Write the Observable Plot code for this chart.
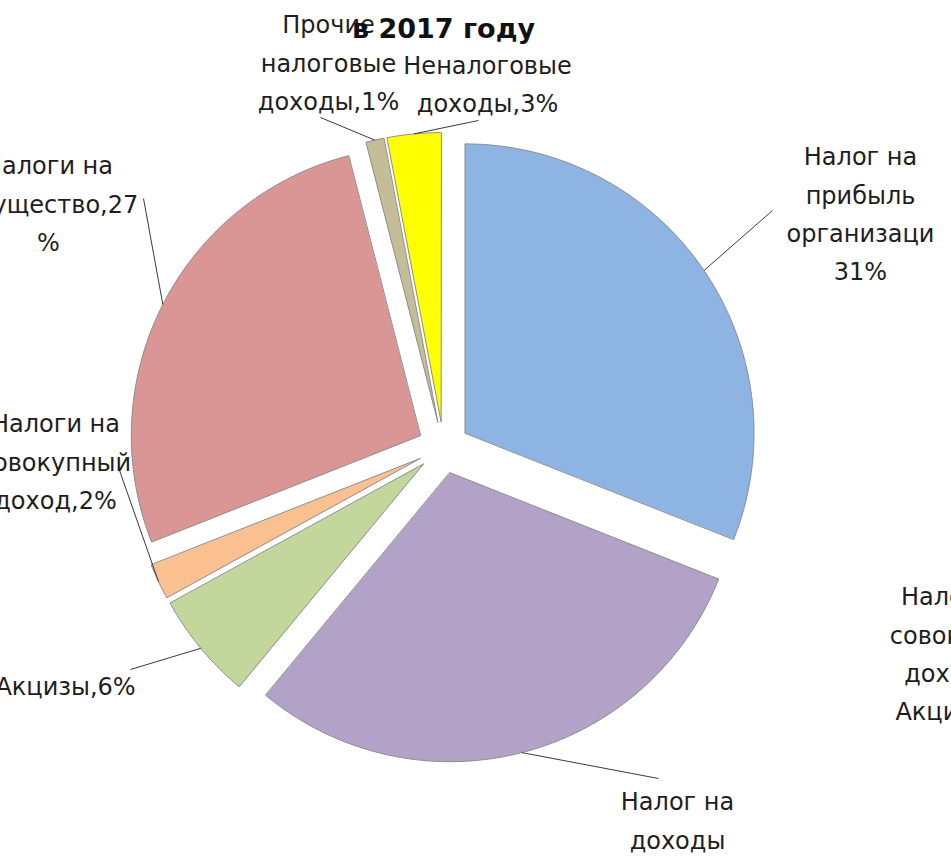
<!DOCTYPE html>
<html>
<head>
<meta charset="utf-8">
<script src="https://cdn.jsdelivr.net/npm/d3@7"></script>
<script src="https://cdn.jsdelivr.net/npm/@observablehq/plot@0.6"></script>
<style>
  html, body { margin: 0; padding: 0; background: #fff; }
  #chart svg { display: block; }
</style>
</head>
<body>
<div id="chart"></div>
<script>
// ---- data ----
const titleText = "в 2017 году";
const categories = [
  "Налог на прибыль организаций",
  "Налог на доходы физических лиц",
  "Акцизы",
  "Налоги на совокупный доход",
  "Налоги на имущество",
  "Прочие налоговые доходы",
  "Неналоговые доходы"
];
const shares = [31, 30, 6, 2, 27, 1, 3];
const labelTexts = [
  "Налог на\nприбыль\nорганизаци\n31%",
  "Налог на\nдоходы\nфизических\nлиц,30%",
  "Акцизы,6%",
  "Налоги на\nсовокупный\nдоход,2%",
  "Налоги на\nимущество,27\n%",
  "Прочие\nналоговые\nдоходы,1%",
  "Неналоговые\nдоходы,3%"
];
const strayLabelText = "Налоги на\nсовокупный\nдоход,2%\nАкцизы,6%";

// ---- style / layout (kept apart from data) ----
const sliceColors = ["#8EB4E3", "#B3A2C7", "#C3D69B", "#FAC090", "#D99694", "#C4BD97", "#FFFF00"];
const R = 289, explode = 26;
// label block centres and leader-line starts, in plot units (centre of pie = 0,0)
const labelLayout = [
  {tx: 417, ty: -237, lx: 329, ly: -237},
  {tx: 234, ty: 408, lx: 215, ly: 331},
  {tx: -378, ty: 235, lx: -313, ly: 222},
  {tx: -388, ty: 11, lx: -325, ly: 20},
  {tx: -395, ty: -247, lx: -300, ly: -249},
  {tx: -115, ty: -388, lx: -123, ly: -330},
  {tx: 44, ty: -367, lx: 35, ly: -327}
];
const strayLayout = {tx: 522, ty: 203};
const titleLayout = {tx: 0, ty: -418};

// ---- geometry from data ----
const arcs = d3.pie().sort(null).value(d => d).startAngle(0).endAngle(2 * Math.PI)(shares);
const polyPts = [];
const labels = [];
arcs.forEach((a, i) => {
  const m = (a.startAngle + a.endAngle) / 2;
  const vx = explode * Math.sin(m), vy = -explode * Math.cos(m);
  polyPts.push({cat: categories[i], x: vx, y: vy});
  const n = Math.max(2, Math.ceil((a.endAngle - a.startAngle) / 0.01));
  for (let k = 0; k <= n; k++) {
    const t = a.startAngle + (a.endAngle - a.startAngle) * k / n;
    polyPts.push({cat: categories[i], x: vx + R * Math.sin(t), y: vy - R * Math.cos(t)});
  }
  labels.push({
    text: labelTexts[i],
    x: labelLayout[i].tx, y: labelLayout[i].ty,
    x1: labelLayout[i].lx, y1: labelLayout[i].ly,
    x2: vx + R * Math.sin(m), y2: vy - R * Math.cos(m)
  });
});

const font = "DejaVu Sans";
const chart = Plot.plot({
  width: 951,
  height: 858,
  margin: 0,
  x: {domain: [-443, 508], range: [0, 951], axis: null},
  y: {domain: [-447, 411], range: [0, 858], axis: null},
  color: {domain: categories, range: sliceColors},
  style: {background: "#fff", fontFamily: font},
  marks: [
    Plot.line(polyPts, {x: "x", y: "y", z: "cat", fill: "cat", stroke: "#8c8c8c", strokeWidth: 1, curve: "linear-closed"}),
    Plot.link(labels, {x1: "x1", y1: "y1", x2: "x2", y2: "y2", stroke: "#3a3a3a", strokeWidth: 1}),
    Plot.text(labels, {x: "x", y: "y", text: "text", fontSize: 24, lineHeight: 1.6, fill: "#1e1e1e", fontFamily: font}),
    Plot.text([strayLabelText], {x: strayLayout.tx, y: strayLayout.ty, text: d => d, fontSize: 24, lineHeight: 1.6, fill: "#1e1e1e", fontFamily: font}),
    Plot.text([titleText], {x: titleLayout.tx, y: titleLayout.ty, text: d => d, fontSize: 27, fontWeight: "bold", fill: "#111", fontFamily: font})
  ]
});
document.getElementById("chart").appendChild(chart);
</script>
</body>
</html>
